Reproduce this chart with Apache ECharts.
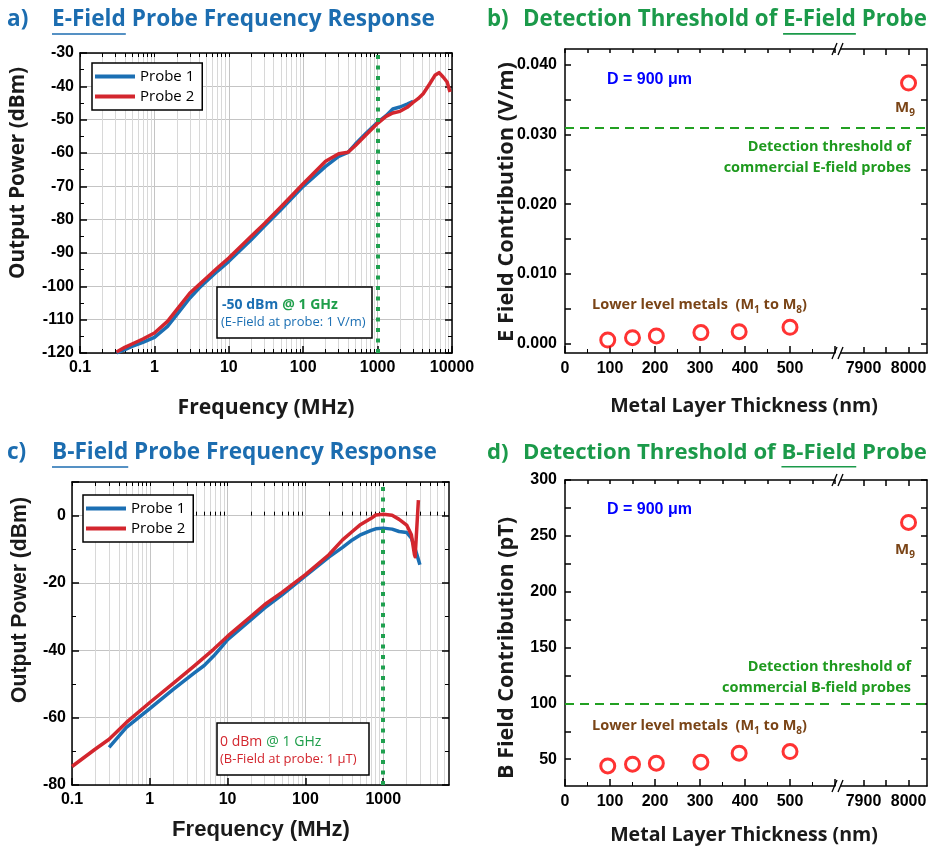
<!DOCTYPE html>
<html>
<head>
<meta charset="utf-8">
<script src="https://cdn.jsdelivr.net/npm/echarts@6/dist/echarts.min.js"></script>
<style>
  html, body { margin: 0; padding: 0; background: #fff; }
  #chart { width: 929px; height: 846px; }
</style>
</head>
<body>
<div id="chart"></div>
<script>
// ---------- data ----------
// a) E-field probe response (MHz, dBm)
const eFreq1 = [0.31, 0.4, 0.5, 0.7, 1, 1.5, 2, 3, 4, 5, 7, 10, 20, 30, 50, 100, 200, 300, 400, 500, 700, 1000, 1300, 1600, 2000, 2500, 3000]
const ePow1 = [-120, -119, -118, -116.8, -115.3, -112, -108.5, -103.5, -100.5, -98.5, -95.5, -92.5, -86, -82, -77, -70, -64, -61, -59.8, -57.4, -54.1, -50.8, -48.8, -46.8, -46.2, -45.3, -44.5]
const eFreq2 = [0.31, 0.4, 0.5, 0.7, 1, 1.5, 2, 3, 4, 5, 7, 10, 20, 30, 50, 100, 200, 300, 400, 500, 700, 1000, 1300, 1600, 2000, 2500, 3000, 3500, 4100, 5000, 5900, 6700, 7600, 8600, 9400]
const ePow2 = [-119.7, -118.3, -117.3, -115.8, -114, -110.5, -107, -102, -99.5, -97.5, -94.5, -91.5, -85, -81.2, -76.2, -69.2, -62.5, -60.2, -59.8, -57.8, -54.5, -51.1, -49, -48, -47.5, -46.3, -44.8, -43.7, -42.2, -39.3, -36.7, -35.9, -37.2, -38.7, -41.7]

// c) B-field probe response (MHz, dBm)
const bFreq1 = [0.3, 0.5, 1, 2, 3.7, 5, 6.6, 8, 10, 20, 30, 50, 100, 200, 300, 400, 500, 700, 800, 1000, 1300, 1600, 2000, 2300, 2500, 2700, 2960]
const bPow1 = [-68.8, -62.9, -57.3, -51.6, -46.8, -44.5, -41.7, -39.5, -36.8, -30.9, -27.4, -23.5, -17.9, -12.3, -9.4, -7.2, -5.8, -4.4, -3.9, -3.7, -4.0, -4.7, -5.0, -6.7, -9.0, -11.5, -14.6]
const bFreq2 = [0.1, 0.2, 0.3, 0.5, 1, 2, 3.7, 6.6, 10, 20, 30, 50, 100, 200, 300, 400, 500, 700, 800, 1000, 1300, 1600, 2000, 2300, 2520, 2570, 2830]
const bPow2 = [-74.5, -69.3, -66.4, -61.4, -55.5, -49.8, -44.7, -39.7, -35.8, -29.9, -26.4, -22.8, -17.5, -11.6, -7.2, -4.7, -2.8, -0.8, 0.2, 0.4, 0.1, -1.1, -2.8, -5.7, -11.6, -12.2, 4.6]

// b) / d) detection threshold vs metal layer thickness
const thickness = [95, 150, 203, 302, 387, 500]
const eContribution = [0.00047, 0.0008, 0.00105, 0.00153, 0.00167, 0.0023]
const bContribution = [44.0, 45.5, 46.4, 47.3, 55.4, 56.8]
const m9Thickness = 8000
const m9E = 0.0374
const m9B = 262
const eThreshold = 0.031
const bThreshold = 100

// tick labels
const decadesA = [0.1, 1, 10, 100, 1000, 10000]
const decadesC = [0.1, 1, 10, 100, 1000]
const eTicks = [0, 0.005, 0.01, 0.015, 0.02, 0.025, 0.03, 0.035, 0.04]
const eLabels = [0, 0.01, 0.02, 0.03, 0.04]
const bTicks = [50, 75, 100, 125, 150, 175, 200, 225, 250, 275, 300]
const bLabels = [50, 100, 150, 200, 250, 300]
const farTicks = [7900, 7950, 8000]
const farLabels = [7900, 8000]

// ---------- styles ----------
const BLUE = '#1b6fb3'
const RED = '#d3262e'
const TITLE_BLUE = '#1c6db0'
const TITLE_GREEN = '#1b9a4a'
const GREEN = '#1e9a1e'
const BROWN = '#7a4416'
const NUM = 'Liberation Sans'
const UI = 'Open Sans'

const measure = document.createElement('canvas').getContext('2d')
function textWidth(text, size, weight, family) {
    measure.font = weight + ' ' + size + 'px "' + family + '"'
    return measure.measureText(text).width
}
function fitSize(text, weight, family, width) {
    return 20 * width / textWidth(text, 20, weight, family)
}

function minorValues(max) {
    const out = []
    for (let d = 0.1; d < max; d *= 10) {
        for (let k = 2; k <= 9; k++) {
            const v = +(d * k).toPrecision(4)
            if (v < max) out.push(v)
        }
    }
    return out
}
const minorA = minorValues(10000)
const minorC = minorValues(7000)

const zip = (xs, ys) => xs.map((x, i) => [x, ys[i]])
const numFont = { color: '#000', fontFamily: NUM, fontWeight: 'bold', fontSize: 16 }
const frame = { show: true, onZero: false, lineStyle: { color: '#000', width: 1.5 } }
const fmtLog = v => String(+Number(v).toPrecision(6))

function logAxes(grid, max, decades, minors) {
    const base = { type: 'log', logBase: 10, gridIndex: grid, min: 0.1, max: max }
    return [
        Object.assign({}, base, {
            position: 'bottom', axisLine: frame,
            axisTick: { show: true, inside: true, length: 7, customValues: decades, lineStyle: { color: '#000', width: 1.5 } },
            axisLabel: Object.assign({ show: true, customValues: decades, formatter: fmtLog, margin: 7 }, numFont),
            splitLine: { show: true, lineStyle: { color: '#c4c4c4', width: 1 } }
        }),
        Object.assign({}, base, {
            position: 'bottom', axisLine: { show: false },
            axisTick: { show: true, inside: true, length: 4, customValues: minors, lineStyle: { color: '#000', width: 1 } },
            axisLabel: { show: false },
            splitLine: { show: true, lineStyle: { color: '#d8d8d8', width: 1 } }
        }),
        Object.assign({}, base, {
            position: 'top', axisLine: frame,
            axisTick: { show: true, inside: true, length: 4, customValues: decades.concat(minors), lineStyle: { color: '#000', width: 1 } },
            axisLabel: { show: false }, splitLine: { show: false }
        })
    ]
}

function linearY(grid, min, max, interval, position, labels) {
    return {
        type: 'value', gridIndex: grid, min: min, max: max, interval: interval, position: position,
        axisLine: frame,
        axisTick: { show: true, inside: true, length: 7, lineStyle: { color: '#000', width: 1.5 } },
        minorTick: { show: true, splitNumber: 2, length: 4, lineStyle: { color: '#000', width: 1 } },
        axisLabel: labels ? Object.assign({ margin: 6, formatter: v => (v > max - interval / 2 && max % interval !== 0 ? '' : v) }, numFont) : { show: false },
        splitLine: { show: !!labels, lineStyle: { color: '#c4c4c4', width: 1 } }
    }
}

function customY(grid, min, max, ticks, labels, position, fmt) {
    return {
        type: 'value', gridIndex: grid, min: min, max: max, position: position,
        axisLine: frame,
        axisTick: { show: true, inside: true, length: 6, customValues: ticks, lineStyle: { color: '#000', width: 1.5 } },
        axisLabel: labels ? Object.assign({ customValues: labels, margin: 8, formatter: fmt }, numFont) : { show: false },
        splitLine: { show: false }
    }
}

function nearX(grid, position, labelled) {
    return {
        type: 'value', gridIndex: grid, min: 0, max: 600, interval: labelled ? 100 : 50, position: position,
        axisLine: frame,
        axisTick: { show: true, inside: true, length: labelled ? 7 : 4, lineStyle: { color: '#000', width: 1.5 } },
        minorTick: { show: labelled, splitNumber: 2, length: 4, lineStyle: { color: '#000', width: 1 } },
        axisLabel: labelled ? Object.assign({ margin: 8, formatter: v => (v >= 600 ? '' : String(v)) }, numFont) : { show: false },
        splitLine: { show: false }
    }
}

function farX(grid, position, labelled) {
    return {
        type: 'value', gridIndex: grid, min: 7850, max: 8041, position: position,
        axisLine: frame,
        axisTick: { show: true, inside: true, length: 6, customValues: farTicks, lineStyle: { color: '#000', width: 1.5 } },
        axisLabel: labelled ? Object.assign({ customValues: farLabels, margin: 8, formatter: v => String(v) }, numFont) : { show: false },
        splitLine: { show: false }
    }
}

// ---------- text & decorations ----------
const elements = []
function txt(x, y, text, style, extra) {
    elements.push(Object.assign({
        type: 'text', x: x, y: y, z: 60,
        style: Object.assign({ text: text, fill: '#000', fontFamily: UI, fontWeight: 'bold', fontSize: 16, align: 'left', verticalAlign: 'middle' }, style)
    }, extra || {}))
}
function line(x1, y1, x2, y2, color, width) {
    elements.push({ type: 'line', z: 60, shape: { x1: x1, y1: y1, x2: x2, y2: y2 }, style: { stroke: color, lineWidth: width } })
}
function box(x, y, w, h) {
    elements.push({ type: 'rect', z: 55, shape: { x: x, y: y, width: w, height: h }, style: { fill: '#fff', stroke: '#000', lineWidth: 1.5 } })
}

function panelTitle(letterX, x, y, letter, text, underlined, color, width) {
    const size = fitSize(text, 'bold', UI, width)
    txt(letterX, y, letter, { fill: color, fontSize: size })
    txt(x, y, text, { fill: color, fontSize: size })
    const i = text.indexOf(underlined)
    const x0 = x + textWidth(text.slice(0, i), size, 'bold', UI)
    const x1 = x0 + textWidth(underlined, size, 'bold', UI)
    line(x0, y + size * 0.62, x1, y + size * 0.62, color, 1.6)
}
panelTitle(7, 52, 20, 'a)', 'E-Field Probe Frequency Response', 'E-Field', TITLE_BLUE, 383)
panelTitle(487, 523, 20, 'b)', 'Detection Threshold of E-Field Probe', 'E-Field', TITLE_GREEN, 404)
panelTitle(7, 52, 453, 'c)', 'B-Field Probe Frequency Response', 'B-Field', TITLE_BLUE, 385)
panelTitle(487, 523, 453, 'd)', 'Detection Threshold of B-Field Probe', 'B-Field', TITLE_GREEN, 404)

function axisTitle(x, y, text, family, width, vertical) {
    const size = fitSize(text, 'bold', family, width)
    txt(x, y, text, { fontFamily: family, fontSize: size, align: 'center', fill: '#1a1a1a' }, vertical ? { rotation: Math.PI / 2 } : {})
}
axisTitle(266, 408, 'Frequency (MHz)', UI, 177)
axisTitle(18, 173, 'Output Power (dBm)', UI, 212, true)
axisTitle(261, 830, 'Frequency (MHz)', NUM, 178)
axisTitle(20, 600, 'Output Power (dBm)', NUM, 206, true)
axisTitle(744, 406, 'Metal Layer Thickness (nm)', UI, 268)
axisTitle(507, 202, 'E Field Contribution (V/m)', UI, 280, true)
axisTitle(744, 835, 'Metal Layer Thickness (nm)', UI, 268)
axisTitle(507, 648, 'B Field Contribution (pT)', UI, 262, true)

// annotation boxes on the frequency plots
box(217, 287, 155, 51)
txt(222, 305, '{b|-50 dBm} {g|@ 1 GHz}', { rich: { b: { fill: BLUE, fontFamily: UI, fontWeight: 'bold', fontSize: 14 }, g: { fill: '#1e9e4a', fontFamily: UI, fontWeight: 'bold', fontSize: 14 } } })
txt(221, 322, '(E-Field at probe: 1 V/m)', { fill: BLUE, fontWeight: 'normal', fontSize: 13 })
box(217, 723, 152, 52)
txt(220, 742, '{r|0 dBm} {g|@ 1 GHz}', { rich: { r: { fill: RED, fontFamily: UI, fontSize: 14 }, g: { fill: '#1e9e4a', fontFamily: UI, fontSize: 14 } } })
txt(220, 759, '(B-Field at probe: 1 \u03bcT)', { fill: RED, fontWeight: 'normal', fontSize: 13 })

// labels on the threshold plots
const sub = { fontFamily: UI, fontWeight: 'bold', fontSize: 10, fill: BROWN, padding: [10, 0, 0, 0] }
function thresholdLabels(top, thY, kind, lowY, m9Y) {
    txt(607, top, 'D = 900 \u03bcm', { fill: '#0000ff', fontFamily: NUM, fontSize: 16 })
    txt(905, m9Y, 'M{s|9}', { fill: BROWN, fontSize: 15, align: 'center', rich: { s: sub } })
    txt(911, thY, 'Detection threshold of', { fill: GREEN, fontSize: 14.5, align: 'right' })
    txt(911, thY + 21, 'commercial ' + kind + '-field probes', { fill: GREEN, fontSize: 14.5, align: 'right' })
    txt(592, lowY, 'Lower level metals  (M{s|1} to M{s|8})', { fill: BROWN, fontSize: 14.5, rich: { s: sub } })
}
thresholdLabels(80, 147, 'E', 305, 108)
thresholdLabels(510, 667, 'B', 726, 550)

// axis break marks
function breakMark(y) {
    line(832, y + 6, 837, y - 6, '#000', 1.3)
    line(838, y + 6, 843, y - 6, '#000', 1.3)
}
breakMark(49); breakMark(353); breakMark(480); breakMark(786)

// ---------- chart ----------
const dotted = {
    silent: true, symbol: 'none', label: { show: false },
    lineStyle: { color: '#1fa04f', width: 4, type: [4, 6.5], cap: 'butt' },
    data: [{ xAxis: 1000 }]
}
function thresholdLine(value) {
    return {
        silent: true, symbol: 'none', precision: 6, label: { show: false },
        lineStyle: { color: '#22a022', width: 2, type: [9, 6] },
        data: [{ yAxis: value }]
    }
}
function probeLine(name, xi, yi, data, color, mark) {
    return {
        name: name, type: 'line', xAxisIndex: xi, yAxisIndex: yi, data: data,
        symbol: 'none', smooth: false, clip: true,
        lineStyle: { color: color, width: 3.5, join: 'round' }, itemStyle: { color: color },
        markLine: mark
    }
}
function circles(name, xi, yi, data, mark) {
    return {
        name: name, type: 'scatter', xAxisIndex: xi, yAxisIndex: yi, data: data,
        symbol: 'circle', symbolSize: 14,
        itemStyle: { color: 'rgba(0,0,0,0)', borderColor: '#ff0000', borderWidth: 3 },
        markLine: mark
    }
}

const legendStyle = {
    orient: 'vertical', data: ['Probe 1', 'Probe 2'], icon: 'rect', itemWidth: 40, itemHeight: 4,
    itemGap: 5, padding: [6, 8, 6, 3], borderColor: '#000', borderWidth: 1.5, backgroundColor: '#fff',
    selectedMode: false, textStyle: { fontFamily: UI, fontSize: 15, color: '#000' }
}

const option = {
    animation: false,
    backgroundColor: '#fff',
    grid: [
        { left: 80, top: 53, width: 372, height: 300, outerBoundsMode: 'none' },
        { left: 72, top: 482, width: 377, height: 303, outerBoundsMode: 'none' },
        { left: 565, top: 49, width: 270, height: 304, outerBoundsMode: 'none' },
        { left: 841, top: 49, width: 86, height: 304, outerBoundsMode: 'none' },
        { left: 565, top: 480, width: 270, height: 306, outerBoundsMode: 'none' },
        { left: 841, top: 480, width: 86, height: 306, outerBoundsMode: 'none' }
    ],
    xAxis: [].concat(
        logAxes(0, 10000, decadesA, minorA),          // 0-2
        logAxes(1, 7000, decadesC, minorC),           // 3-5
        [nearX(2, 'bottom', true), nearX(2, 'top', false)],   // 6-7
        [farX(3, 'bottom', true), farX(3, 'top', false)],     // 8-9
        [nearX(4, 'bottom', true), nearX(4, 'top', false)],   // 10-11
        [farX(5, 'bottom', true), farX(5, 'top', false)]      // 12-13
    ),
    yAxis: [
        linearY(0, -120, -30, 10, 'left', true),
        linearY(0, -120, -30, 10, 'right', false),
        linearY(1, -80, 10, 20, 'left', true),
        linearY(1, -80, 10, 20, 'right', false),
        customY(2, -0.0014, 0.0423, eTicks, eLabels, 'left', v => Number(v).toFixed(3)),
        customY(3, -0.0014, 0.0423, eTicks, null, 'right'),
        customY(4, 26, 300, bTicks, bLabels, 'left', v => String(v)),
        customY(5, 26, 300, bTicks, null, 'right')
    ],
    legend: [
        Object.assign({ left: 92, top: 63 }, legendStyle),
        Object.assign({ left: 83, top: 495 }, legendStyle)
    ],
    series: [
        probeLine('Probe 1', 0, 0, zip(eFreq1, ePow1), BLUE, dotted),
        probeLine('Probe 2', 0, 0, zip(eFreq2, ePow2), RED),
        probeLine('Probe 1', 3, 2, zip(bFreq1, bPow1), BLUE, dotted),
        probeLine('Probe 2', 3, 2, zip(bFreq2, bPow2), RED),
        circles('E lower metals', 6, 4, zip(thickness, eContribution), thresholdLine(eThreshold)),
        circles('E M9', 8, 5, [[m9Thickness, m9E]], thresholdLine(eThreshold)),
        circles('B lower metals', 10, 6, zip(thickness, bContribution), thresholdLine(bThreshold)),
        circles('B M9', 12, 7, [[m9Thickness, m9B]], thresholdLine(bThreshold))
    ],
    graphic: { elements: elements }
}

const chart = echarts.init(document.getElementById('chart'))
chart.setOption(option)
</script>
</body>
</html>
